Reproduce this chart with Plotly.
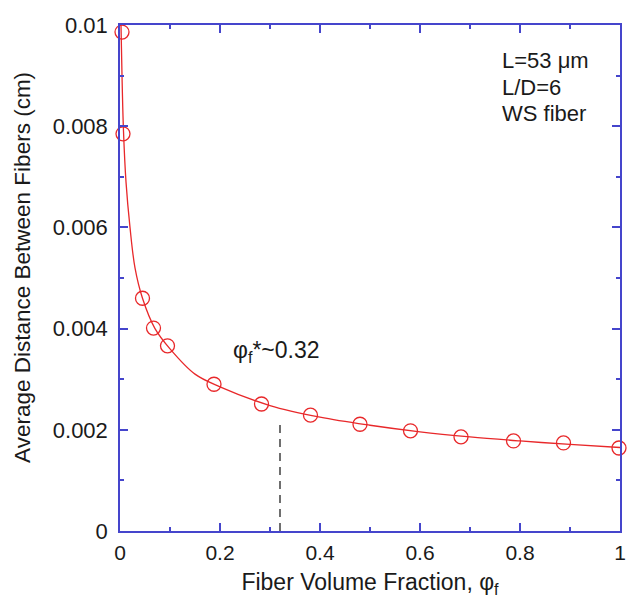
import plotly.graph_objects as go

# measured data points (open circles)
phi_pts = [0.004, 0.006, 0.045, 0.067, 0.095, 0.188, 0.283, 0.381, 0.48, 0.581, 0.682, 0.787, 0.887, 0.998]
dist_pts = [0.00986, 0.00785, 0.0046, 0.00401, 0.00366, 0.0029, 0.00251, 0.00229, 0.00211, 0.00198, 0.00186, 0.00178, 0.00174, 0.00164]

# fitted curve
phi_curve = [0.002, 0.004, 0.007, 0.012, 0.02, 0.03, 0.045, 0.07, 0.1, 0.15, 0.2, 0.3, 0.4, 0.5, 0.6, 0.7, 0.8, 0.9, 1.0]
dist_curve = [0.0100, 0.0090, 0.0079, 0.0069, 0.0060, 0.0052, 0.0046, 0.0040, 0.0036, 0.0031, 0.00285, 0.00248,
              0.00225, 0.00209, 0.00196, 0.00186, 0.00178, 0.00171, 0.00165]

# critical fraction marker
phi_star = 0.32
star_line_top = 0.0021

x_ticks = [0, 0.2, 0.4, 0.6, 0.8, 1]
x_labels = ["0", "0.2", "0.4", "0.6", "0.8", "1"]
y_ticks = [0, 0.002, 0.004, 0.006, 0.008, 0.01]
y_labels = ["0", "0.002", "0.004", "0.006", "0.008", "0.01"]

info_lines = ["L=53 μm", "L/D=6", "WS fiber"]
info_y = [0.00929, 0.00877, 0.00826]

RED = "#e8282a"
BLUE = "#4545cc"
TXT = "#1a1a1a"
FONT = "Liberation Sans, Arial, sans-serif"

fig = go.Figure()
fig.add_trace(go.Scatter(x=phi_curve, y=dist_curve, mode="lines", line=dict(color=RED, width=1.3, shape="spline"),
                         hoverinfo="skip", showlegend=False, cliponaxis=False))
fig.add_trace(go.Scatter(x=phi_pts, y=dist_pts, mode="markers", cliponaxis=False,
                         marker=dict(symbol="circle-open", size=14, color=RED, line=dict(width=1.3, color=RED)),
                         showlegend=False))
fig.add_trace(go.Scatter(x=[phi_star, phi_star], y=[0, star_line_top], mode="lines",
                         line=dict(color="#222222", width=1.3, dash="8px,6px"), showlegend=False))

fig.add_annotation(x=0.221, y=0.00354, xref="x", yref="y", text="φ<sub>f</sub>*~0.32", showarrow=False,
                   xanchor="left", yanchor="middle", font=dict(size=23, color=TXT, family=FONT))
for line, yv in zip(info_lines, info_y):
    fig.add_annotation(x=0.759, y=yv, xref="x", yref="y", text=line, showarrow=False,
                       xanchor="left", yanchor="middle", font=dict(size=22, color=TXT, family=FONT))

# y-axis title placed as rotated text
fig.add_annotation(x=-0.194, y=0.52, xref="paper", yref="paper", text="Average Distance Between Fibers (cm)",
                   showarrow=False, textangle=-90, xanchor="center", yanchor="middle",
                   font=dict(size=22.5, color=TXT, family=FONT))

axis_common = dict(showline=True, linecolor=BLUE, linewidth=1.5, mirror="ticks", ticks="inside", ticklen=8,
                   tickwidth=1.5, tickcolor=BLUE, showgrid=False, zeroline=False, ticklabeloverflow="allow")

fig.update_xaxes(range=[0, 1], tickvals=x_ticks, ticktext=x_labels, ticklabelstandoff=2,
                 tickfont=dict(size=21, color=TXT, family=FONT),
                 minor=dict(dtick=0.1, ticklen=4, tickcolor=BLUE, tickwidth=1.5, ticks="inside", showgrid=False),
                 title=dict(text="Fiber Volume Fraction, φ<sub>f</sub>", font=dict(size=23, color=TXT, family=FONT),
                            standoff=11),
                 **axis_common)
fig.update_yaxes(range=[0, 0.01], tickvals=y_ticks, ticktext=y_labels, ticklabelstandoff=6,
                 tickfont=dict(size=22, color=TXT, family=FONT),
                 minor=dict(dtick=0.001, ticklen=4, tickcolor=BLUE, tickwidth=1.5, ticks="inside", showgrid=False),
                 **axis_common)

fig.update_layout(width=628, height=601, margin=dict(l=120, r=2, t=25, b=70),
                  plot_bgcolor="white", paper_bgcolor="white", showlegend=False)

fig.write_html("out.html", post_script="document.body.style.margin='0';", config={"displayModeBar": False})
